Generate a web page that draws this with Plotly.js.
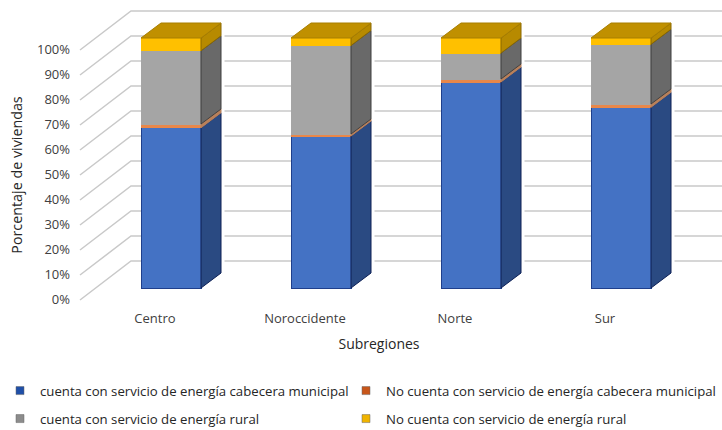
<!DOCTYPE html>
<html><head><meta charset="utf-8">
<script src="https://cdn.plot.ly/plotly-3.0.1.min.js"></script>
<style>html,body{margin:0;padding:0;background:#fff}</style>
</head><body><div id="chart" style="width:722px;height:430px"></div>
<script>
const categories = ["Centro","Noroccidente","Norte","Sur"];
const seriesNames = ["cuenta con servicio de energía cabecera municipal","No cuenta con servicio de energía cabecera municipal","cuenta con servicio de energía rural","No cuenta con servicio de energía rural"];
const cabeceraCon = [64.1,60.8,82.4,72.3];
const cabeceraSin = [1.5,0.8,1.2,1.3];
const ruralCon = [29.3,35.4,10.4,23.9];
const ruralSin = [5.1,3.0,6.0,2.5];
const gridValues = [0,10,20,30,40,50,60,70,80,90,100];

const FONT = '"Open Sans", sans-serif';
const series = [cabeceraCon,cabeceraSin,ruralCon,ruralSin];
const frontColor = ["#4472c4","#e8874a","#a5a5a5","#ffc000"];
const edgeColor = ["#1f3f8c","#e8874a","#a5a5a5","#ffc000"];
const sideColor = ["#2a4a82","#b8805a","#696969","#b78a00"];
const sideEdge = ["#0c1f55","#b8805a","#3f3f3f","#8a6800"];
const topColor = "#c09000";
const xs = categories.map((_,i)=>i);
const barW = 0.4, depthX = 20/150, depthY = 6;
const wallX0 = -0.6067, wallDX = 0.34, wallDY = 15.6, wallDrop = -4.8, xEnd = 3.6733;

const traces = [];
series.forEach((vals,s)=>traces.push({type:"bar",x:xs,y:vals,width:barW,showlegend:false,hoverinfo:"skip",
  marker:{color:frontColor[s],line:{color:edgeColor[s],width:1}}}));
{
  const px=[],py=[];
  xs.forEach(x=>{ const r=x+barW/2+depthX+0.012; px.push(r,r,null); py.push(depthY-1,100+depthY+1,null); });
  traces.push({type:"scatter",mode:"lines",x:px,y:py,line:{color:"#ffffff",width:3.5},showlegend:false,hoverinfo:"skip"});
}
let base = xs.map(()=>0);
series.forEach((vals,s)=>{
  const px=[],py=[];
  xs.forEach((x,i)=>{
    const r=x+barW/2, b=base[i], t=b+vals[i];
    px.push(r,r+depthX,r+depthX,r,r,null);
    py.push(b,b+depthY,t+depthY,t,b,null);
  });
  base = base.map((b,i)=>b+vals[i]);
  traces.push({type:"scatter",mode:"lines",x:px,y:py,fill:"toself",fillcolor:sideColor[s],
    line:{color:sideEdge[s],width:1},showlegend:false,hoverinfo:"skip"});
});
{
  const px=[],py=[];
  xs.forEach((x,i)=>{
    const l=x-barW/2,r=x+barW/2,t=base[i];
    px.push(l,l+depthX,r+depthX,r,l,null);
    py.push(t,t+depthY,t+depthY,t,t,null);
  });
  traces.push({type:"scatter",mode:"lines",x:px,y:py,fill:"toself",fillcolor:topColor,
    line:{color:"#a87e00",width:1},showlegend:false,hoverinfo:"skip"});
}
const legendColor = ["#1f4fa8","#c8561a","#8c8c8c","#f0b400"];
const legendIds = ["legend","legend2","legend3","legend4"];
seriesNames.forEach((name,s)=>traces.push({type:"scatter",mode:"markers",x:[null],y:[null],name:name,
  legend:legendIds[s],hoverinfo:"skip",
  marker:{symbol:"square",size:8,color:legendColor[s],line:{color:"#666",width:0.5}}}));

const shapes = gridValues.map(v=>({type:"path",layer:"below",xref:"x",yref:"y",
  path:`M${wallX0},${v+wallDrop} L${wallX0+wallDX},${v+wallDrop+wallDY} L${xEnd},${v+wallDrop+wallDY}`,
  line:{color:"#c9c9c9",width:1.5}}));

const legendBase = {orientation:"h",xref:"container",yref:"container",xanchor:"left",yanchor:"middle",
  font:{family:FONT,size:13.2,color:"#262626"},bgcolor:"rgba(0,0,0,0)"};

const layout = {
  width:722,height:430,paper_bgcolor:"#fff",plot_bgcolor:"#fff",
  margin:{l:36,r:0,t:0,b:80,pad:0},barmode:"stack",showlegend:true,
  font:{family:FONT,size:13,color:"#404040"},
  xaxis:{range:[-0.9,xEnd],tickmode:"array",tickvals:xs.map(x=>x-0.107),ticktext:categories,
    anchor:"free",position:50/350,showgrid:false,zeroline:false,showline:false,ticks:"outside",ticklen:6,tickcolor:"rgba(0,0,0,0)",
    tickfont:{family:FONT,size:13,color:"#404040"},
    title:{text:"Subregiones",standoff:13,font:{family:FONT,size:14,color:"#262626"}}},
  yaxis:{range:[-24.8,115.2],tickmode:"array",tickvals:gridValues.map(v=>v-4.4),ticktext:gridValues.map(v=>v+"%"),
    anchor:"free",position:34/686,showgrid:false,zeroline:false,showline:false,ticks:"",
    tickfont:{family:FONT,size:13,color:"#404040"},
    title:{text:"Porcentaje de viviendas",standoff:9,font:{family:FONT,size:14.3,color:"#262626"}}},
  shapes:shapes,
  legend:Object.assign({},legendBase,{x:0,y:(430-391)/430}),
  legend2:Object.assign({},legendBase,{x:346/722,y:(430-391)/430}),
  legend3:Object.assign({},legendBase,{x:0,y:(430-419)/430}),
  legend4:Object.assign({},legendBase,{x:346/722,y:(430-419)/430})
};
Plotly.newPlot("chart",traces,layout,{displayModeBar:false,staticPlot:true});
</script></body></html>
